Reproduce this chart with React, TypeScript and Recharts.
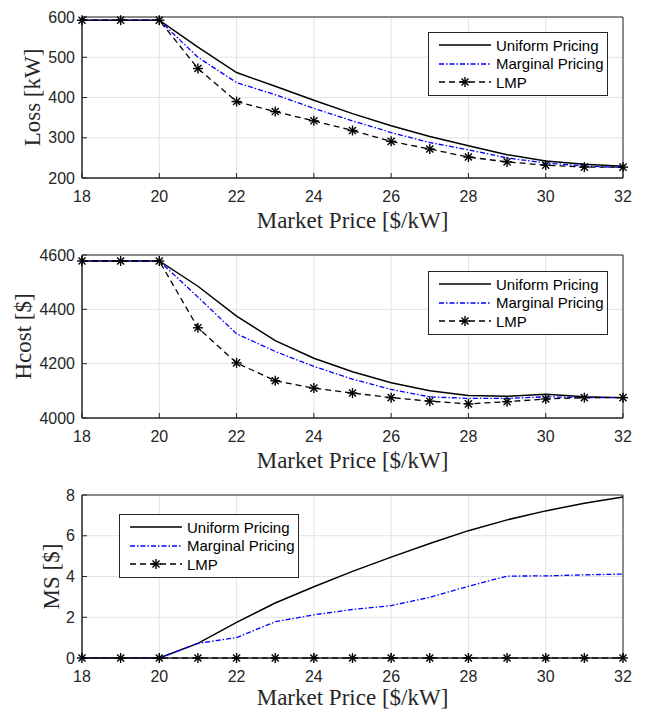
import { LineChart, Line, XAxis, YAxis, CartesianGrid, Legend, Label, ReferenceArea } from 'recharts';

const price = [18, 19, 20, 21, 22, 23, 24, 25, 26, 27, 28, 29, 30, 31, 32];
const priceTicks = [18, 20, 22, 24, 26, 28, 30, 32];

const lossUniform = [592, 592, 592, 525, 462, 428, 393, 360, 330, 303, 280, 258, 242, 234, 229];
const lossMarginal = [592, 592, 592, 500, 437, 407, 373, 342, 313, 288, 270, 250, 237, 230, 226];
const lossLmp = [592, 592, 592, 472, 390, 365, 342, 318, 291, 272, 252, 240, 232, 227, 227];
const lossTicks = [200, 300, 400, 500, 600];

const hcostUniform = [4578, 4578, 4578, 4485, 4375, 4285, 4220, 4170, 4130, 4100, 4083, 4080, 4087, 4078, 4075];
const hcostMarginal = [4578, 4578, 4578, 4445, 4310, 4245, 4190, 4143, 4105, 4078, 4072, 4072, 4078, 4075, 4075];
const hcostLmp = [4578, 4578, 4578, 4332, 4203, 4137, 4110, 4092, 4075, 4062, 4052, 4060, 4070, 4075, 4075];
const hcostTicks = [4000, 4200, 4400, 4600];

const msUniform = [0, 0, 0, 0.72, 1.75, 2.7, 3.5, 4.25, 4.95, 5.62, 6.25, 6.78, 7.22, 7.6, 7.9];
const msMarginal = [0, 0, 0, 0.72, 1.0, 1.78, 2.12, 2.38, 2.57, 2.98, 3.52, 4.02, 4.03, 4.08, 4.12];
const msLmp = [0, 0, 0, 0, 0, 0, 0, 0, 0, 0, 0, 0, 0, 0, 0];
const msTicks = [0, 2, 4, 6, 8];

const seriesNames = ['Uniform Pricing', 'Marginal Pricing', 'LMP'];

const AXIS = '#262626';
const BLUE = '#0000ff';
const SANS = '"Liberation Sans", Arial, sans-serif';
const SERIF = '"Liberation Serif", "Times New Roman", serif';

const Star = ({ cx, cy, r = 5 }: { cx: number; cy: number; r?: number }) => {
  const d = r * 0.707;
  return (
    <g stroke="#000" strokeWidth={1.4}>
      <line x1={cx - r} y1={cy} x2={cx + r} y2={cy} />
      <line x1={cx} y1={cy - r} x2={cx} y2={cy + r} />
      <line x1={cx - d} y1={cy - d} x2={cx + d} y2={cy + d} />
      <line x1={cx - d} y1={cy + d} x2={cx + d} y2={cy - d} />
    </g>
  );
};

const starDot = (props: any) => <Star key={`s-${props.index}`} cx={props.cx} cy={props.cy} />;

function LegendBox() {
  const row = { display: 'flex', alignItems: 'center', height: 18.5 } as const;
  return (
    <div
      style={{
        border: `1px solid ${AXIS}`,
        background: '#fff',
        width: 168,
        padding: '3px 0 3px 10px',
        fontFamily: SANS,
        fontSize: 15,
        color: '#000',
        lineHeight: 1,
      }}
    >
      <div style={row}>
        <svg width={52} height={12}>
          <line x1={0} y1={6} x2={52} y2={6} stroke="#000" strokeWidth={1.5} />
        </svg>
        <span style={{ marginLeft: 5 }}>{seriesNames[0]}</span>
      </div>
      <div style={row}>
        <svg width={52} height={12}>
          <line x1={0} y1={6} x2={52} y2={6} stroke={BLUE} strokeWidth={1.3} strokeDasharray="5 2 1.5 2" />
        </svg>
        <span style={{ marginLeft: 5 }}>{seriesNames[1]}</span>
      </div>
      <div style={row}>
        <svg width={52} height={12}>
          <line x1={0} y1={6} x2={52} y2={6} stroke="#000" strokeWidth={1.3} strokeDasharray="6 4" />
          <Star cx={26} cy={6} />
        </svg>
        <span style={{ marginLeft: 5 }}>{seriesNames[2]}</span>
      </div>
    </div>
  );
}

type PanelProps = {
  height: number;
  top: number;
  bottom: number;
  uniform: number[];
  marginal: number[];
  lmp: number[];
  yTicks: number[];
  yLabel: string;
  yLabelOffset: number;
  xLabelOffset: number;
  legendLeft: number;
  legendTop: number;
};

function Panel(p: PanelProps) {
  const data = price.map((x, i) => ({ price: x, uniform: p.uniform[i], marginal: p.marginal[i], lmp: p.lmp[i] }));
  const yMin = p.yTicks[0];
  const yMax = p.yTicks[p.yTicks.length - 1];
  return (
    <LineChart width={645} height={p.height} data={data} margin={{ top: p.top, right: 22, bottom: p.bottom, left: 0 }}>
      <CartesianGrid stroke="#e3e3e3" />
      <XAxis
        dataKey="price"
        type="number"
        domain={[18, 32]}
        ticks={priceTicks}
        height={40}
        stroke={AXIS}
        tickSize={-5}
        tickMargin={18}
        tick={{ fill: AXIS, fontSize: 16, fontFamily: SANS }}
      >
        <Label value="Market Price [$/kW]" position="bottom" offset={p.xLabelOffset} style={{ fontFamily: SERIF, fontSize: 23, fill: AXIS }} />
      </XAxis>
      <YAxis
        type="number"
        domain={[yMin, yMax]}
        ticks={p.yTicks}
        width={82}
        stroke={AXIS}
        tickSize={-5}
        tickMargin={12}
        tick={{ fill: AXIS, fontSize: 16, fontFamily: SANS }}
      >
        <Label
          value={p.yLabel}
          angle={-90}
          position="insideLeft"
          offset={p.yLabelOffset}
          style={{ fontFamily: SERIF, fontSize: 23, fill: AXIS, textAnchor: 'middle' }}
        />
      </YAxis>
      <ReferenceArea x1={18} x2={32} y1={yMin} y2={yMax} fill="none" stroke={AXIS} strokeWidth={1} ifOverflow="visible" />
      <Line dataKey="uniform" stroke="#000" strokeWidth={1.5} dot={false} isAnimationActive={false} />
      <Line dataKey="marginal" stroke={BLUE} strokeWidth={1.3} strokeDasharray="5 2 1.5 2" dot={false} isAnimationActive={false} />
      <Line dataKey="lmp" stroke="#000" strokeWidth={1.3} strokeDasharray="6 4" dot={starDot} isAnimationActive={false} />
      <Legend
        layout="horizontal"
        verticalAlign="middle"
        align="center"
        content={() => <LegendBox />}
        wrapperStyle={{ left: p.legendLeft, top: p.legendTop, width: 'auto' }}
      />
    </LineChart>
  );
}

export default function App() {
  return (
    <div style={{ position: 'absolute', left: 0, top: 0, width: 645, height: 711, background: '#fff' }}>
      <div style={{ position: 'absolute', left: 0, top: 0 }}>
        <Panel height={240} top={17} bottom={22} uniform={lossUniform} marginal={lossMarginal} lmp={lossLmp}
          yTicks={lossTicks} yLabel="Loss [kW]" yLabelOffset={32} xLabelOffset={-6} legendLeft={428} legendTop={32} />
      </div>
      <div style={{ position: 'absolute', left: 0, top: 240 }}>
        <Panel height={240} top={15} bottom={22} uniform={hcostUniform} marginal={hcostMarginal} lmp={hcostLmp}
          yTicks={hcostTicks} yLabel="Hcost [$]" yLabelOffset={23} xLabelOffset={-6} legendLeft={428} legendTop={31} />
      </div>
      <div style={{ position: 'absolute', left: 0, top: 478 }}>
        <Panel height={233} top={17} bottom={13} uniform={msUniform} marginal={msMarginal} lmp={msLmp}
          yTicks={msTicks} yLabel="MS [$]" yLabelOffset={51} xLabelOffset={-9} legendLeft={119} legendTop={36} />
      </div>
    </div>
  );
}
